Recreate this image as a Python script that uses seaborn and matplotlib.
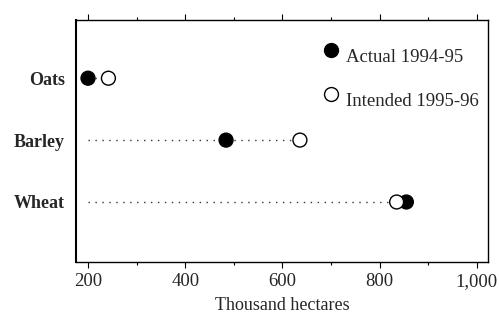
import matplotlib
matplotlib.use("Agg")
import matplotlib.pyplot as plt
import seaborn as sns
import pandas as pd
from matplotlib.ticker import MultipleLocator, FuncFormatter

crops = ["Oats", "Barley", "Wheat"]
actual = [200, 484, 855]
intended = [242, 636, 835]
series_names = ["Actual 1994-95", "Intended 1995-96"]
xticks = [200, 400, 600, 800, 1000]

sns.set_theme(style="white")
plt.rcParams['font.family'] = ['Liberation Serif', 'DejaVu Serif']

df = pd.DataFrame({
    "crop": crops * 2,
    "value": actual + intended,
    "series": [series_names[0]] * 3 + [series_names[1]] * 3,
})

fig = plt.figure(figsize=(4.99, 3.18), dpi=100)
ax = fig.add_axes([0.152, 0.176, 0.826, 0.761])

ypos = {c: i for i, c in enumerate(crops)}
for c, a, b in zip(crops, actual, intended):
    ax.plot([200, max(a, b)], [ypos[c], ypos[c]], linestyle=(0, (1, 4)),
            color="#333333", linewidth=1.0, zorder=1)

sns.scatterplot(data=df, x="value", y="crop", hue="series", style="series",
                palette={series_names[0]: "black", series_names[1]: "white"},
                markers={series_names[0]: "o", series_names[1]: "o"},
                edgecolor="black", linewidth=1.0, s=100, ax=ax, zorder=3,
                legend=False)

# legend built from the series
for i, (name, fc) in enumerate(zip(series_names, ["black", "white"])):
    ax.scatter([700], [-0.45 + 0.7 * i], s=100, facecolor=fc, edgecolor="black",
               linewidth=1.0, zorder=3, clip_on=False)
    ax.text(730, -0.45 + 0.7 * i + 0.12, name, fontsize=13.5, va="center", ha="left")

ax.set_xlim(175, 1023)
ax.set_ylim(2.97, -0.94)
ax.set_xticks(xticks)
ax.xaxis.set_minor_locator(MultipleLocator(100))
ax.xaxis.set_major_formatter(FuncFormatter(lambda v, p: f"{int(v):,}"))
ax.set_xlabel("Thousand hectares", fontsize=13, labelpad=5)
ax.set_ylabel("")
ax.tick_params(axis="x", which="both", top=True, bottom=True, direction="out",
               length=4, width=0.8, color="black", labelsize=13.5, pad=4)
ax.tick_params(axis="x", which="minor", length=2)
ax.tick_params(axis="y", length=0, labelsize=13, pad=8)
for lab in ax.get_yticklabels():
    lab.set_fontweight("bold")
for s in ax.spines.values():
    s.set_visible(True)
    s.set_color("black")
    s.set_linewidth(1.0)
ax.spines["left"].set_linewidth(1.5)
ax.grid(False)

fig.savefig("out.png", dpi=100)
